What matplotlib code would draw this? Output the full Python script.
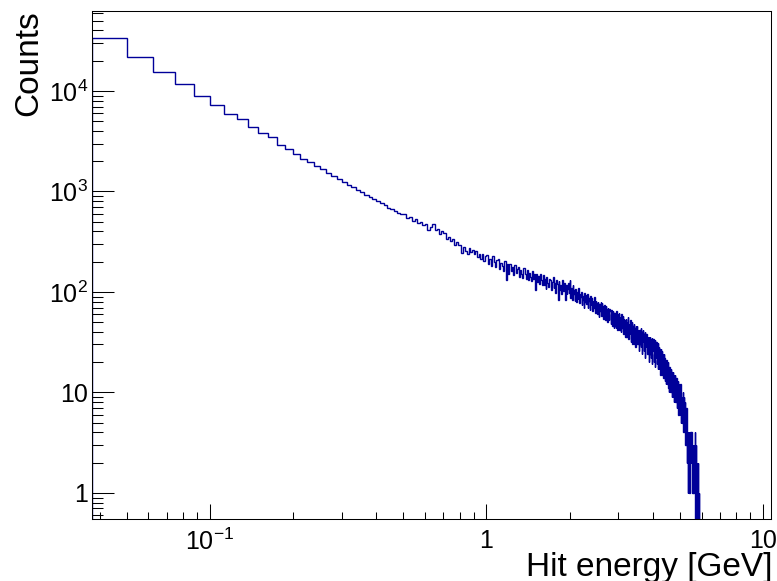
import numpy as np
import matplotlib
matplotlib.use("Agg")
import matplotlib.pyplot as plt
from matplotlib.ticker import FixedLocator, FixedFormatter, LogLocator, NullFormatter

plt.rcParams['font.family'] = ['Liberation Sans', 'DejaVu Sans']
plt.rcParams['mathtext.fontset'] = 'custom'
plt.rcParams['mathtext.rm'] = 'Liberation Sans'
plt.rcParams['mathtext.it'] = 'Liberation Sans'
plt.rcParams['mathtext.default'] = 'regular'

# histogram binning (GeV)
bin_lo = 0.0375
bin_width = 0.0125

# counts per bin
counts_low = [33900, 21600, 15350, 11830, 8920, 7310, 5860, 5220, 4350, 3800,
              3460, 2880, 2650]                                   # 0.0375 - 0.2
counts_02_1 = [
    2335, 2125, 1960, 1780, 1665, 1530, 1440, 1330,    # 0.2
    1255, 1170, 1110, 1035, 990, 925, 890, 835,        # 0.3
    805, 760, 735, 690, 670, 640, 608, 590,            # 0.4
    590, 545, 560, 505, 530, 480, 500, 462,            # 0.5
    470, 418, 440, 478, 415, 420, 380, 405,            # 0.6
    382, 340, 352, 318, 335, 296, 312, 290,            # 0.7
    290, 245, 282, 255, 236, 272, 248, 262,            # 0.8
    238, 258, 222, 240, 212, 236, 205, 226,            # 0.9
]
counts_1_2 = [
    232, 190, 215, 182, 226, 200, 176, 210,            # 1.0
    212, 170, 196, 182, 160, 204, 132, 188,            # 1.1
    150, 190, 162, 178, 148, 184, 156, 170,            # 1.2
    176, 142, 166, 150, 138, 172, 152, 136,            # 1.3
    166, 132, 156, 140, 128, 162, 134, 150,            # 1.4
    104, 150, 126, 144, 120, 152, 130, 116,            # 1.5
    146, 118, 134, 108, 140, 122, 112, 136,            # 1.6
    132, 104, 126, 140, 110, 124, 98, 130,             # 1.7
    120, 84, 128, 104, 116, 96, 130, 110,              # 1.8
    102, 122, 84, 116, 96, 108, 124, 98,               # 1.9
]
counts_2_3 = [
    130, 88, 110, 84, 116, 96, 104, 82,                # 2.0
    108, 80, 100, 86, 110, 78, 96, 90,                 # 2.1
    100, 74, 92, 84, 70, 98, 80, 94,                   # 2.2
    76, 96, 70, 88, 82, 66, 92, 74,                    # 2.3
    88, 64, 82, 70, 90, 72, 62, 82,                    # 2.4
    78, 60, 80, 68, 56, 76, 64, 80,                    # 2.5
    58, 78, 62, 72, 54, 74, 66, 52,                    # 2.6
    72, 54, 68, 50, 70, 60, 52, 68,                    # 2.7
    64, 48, 66, 56, 46, 64, 54, 44,                    # 2.8
    62, 46, 58, 44, 64, 52, 42, 60,                    # 2.9
]
counts_3_4 = [
    50, 62, 42, 56, 48, 40, 60, 46,                    # 3.0
    44, 58, 38, 54, 42, 52, 36, 50,                    # 3.1
    54, 36, 50, 40, 56, 34, 48, 42,                    # 3.2
    38, 52, 32, 46, 50, 36, 30, 46,                    # 3.3
    36, 48, 30, 44, 34, 28, 46, 38,                    # 3.4
    46, 30, 42, 32, 40, 26, 42, 34,                    # 3.5
    30, 44, 28, 40, 24, 38, 32, 42,                    # 3.6
    38, 26, 34, 40, 22, 36, 28, 38,                    # 3.7
    26, 38, 24, 36, 30, 20, 36, 28,                    # 3.8
    36, 24, 34, 22, 30, 35, 19, 32,                    # 3.9
]
counts_4_6 = [
    26, 34, 20, 31, 24, 33, 18, 28,                    # 4.0
    22, 32, 19, 29, 21, 17, 31, 23,                    # 4.1
    28, 17, 27, 19, 25, 15, 27, 18,                    # 4.2
    19, 26, 15, 24, 18, 14, 24, 17,                    # 4.3
    22, 13, 21, 16, 20, 12, 21, 15,                    # 4.4
    19, 12, 18, 20, 11, 17, 10, 18,                    # 4.5
    13, 18, 10, 17, 11, 16, 12, 9,                     # 4.6
    15, 10, 16, 9, 13, 15, 8, 14,                      # 4.7
    10, 15, 8, 13, 9, 14, 7, 12,                       # 4.8
    12, 7, 13, 9, 6, 12, 10, 7,                        # 4.9
    11, 6, 12, 8, 5, 10, 7, 9,                         # 5.0
    9, 5, 10, 6, 8, 4, 9, 6,                           # 5.1
    7, 4, 8, 5, 3, 6, 4, 7,                            # 5.2
    4, 2, 4, 3, 1, 4, 3, 2,                            # 5.3
    3, 4, 1, 3, 2, 4, 2, 3,                            # 5.4
    2, 4, 1, 3, 2, 1, 3, 2,                            # 5.5
    1, 3, 2, 1, 2, 4, 1, 2,                            # 5.6
    0, 2, 1, 3, 0, 1, 2, 0,                            # 5.7
    1, 2, 0, 1, 0, 1,                                  # 5.8
]

counts = np.array(counts_low + counts_02_1 + counts_1_2 + counts_2_3
                  + counts_3_4 + counts_4_6, dtype=float)
edges = bin_lo + bin_width * np.arange(len(counts) + 1)

x_range = (0.0375, 10.7)
y_range = (0.55, 62500)

x_major = [0.1, 1, 10]
x_major_labels = ['$10^{-1}$', '1', '10']
y_major = [1, 10, 100, 1000, 10000]
y_major_labels = ['1', '10', '$10^{2}$', '$10^{3}$', '$10^{4}$']

W, H = 777, 581
fig = plt.figure(figsize=(W / 100, H / 100), dpi=100)
ax = fig.add_axes([92 / W, 1 - 519 / H, (771 - 92) / W, (519 - 11) / H])

ax.stairs(counts, edges, color='#000099', lw=1.0)

ax.set_xscale('log')
ax.set_yscale('log')
ax.set_xlim(*x_range)
ax.set_ylim(*y_range)

ax.xaxis.set_major_locator(FixedLocator(x_major))
ax.xaxis.set_major_formatter(FixedFormatter(x_major_labels))
ax.xaxis.set_minor_locator(LogLocator(base=10, subs=np.arange(2, 10), numticks=20))
ax.xaxis.set_minor_formatter(NullFormatter())
ax.yaxis.set_major_locator(FixedLocator(y_major))
ax.yaxis.set_major_formatter(FixedFormatter(y_major_labels))
ax.yaxis.set_minor_locator(LogLocator(base=10, subs=np.arange(2, 10), numticks=20))
ax.yaxis.set_minor_formatter(NullFormatter())

ax.tick_params(axis='both', which='both', direction='in', width=0.75,
               top=False, right=False, labelsize=18)
ax.tick_params(axis='x', which='major', length=10.5, pad=7)
ax.tick_params(axis='x', which='minor', length=5.2)
ax.tick_params(axis='y', which='major', length=16, pad=3)
ax.tick_params(axis='y', which='minor', length=8)
for s in ax.spines.values():
    s.set_linewidth(0.75)

fig.text(772 / W, 5 / H, 'Hit energy [GeV]', ha='right', va='baseline', fontsize=24)
fig.text(13 / W, 1 - 10 / H, 'Counts', ha='left', va='top', rotation=90, fontsize=24)

fig.savefig('out.png', dpi=100)
